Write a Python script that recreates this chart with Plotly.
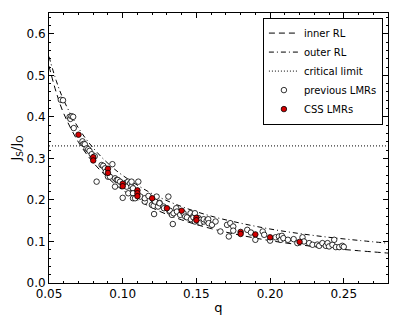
import plotly.graph_objects as go

# theoretical curves
q_curve = [0.05, 0.055, 0.06, 0.07, 0.08, 0.09, 0.10, 0.12, 0.14, 0.16, 0.18, 0.20, 0.22, 0.24, 0.26, 0.28]
inner_rl = [0.522, 0.458, 0.408, 0.339, 0.290, 0.253, 0.2235, 0.181, 0.152, 0.131, 0.115, 0.102, 0.092, 0.084, 0.0777, 0.072]
outer_rl = [0.545, 0.486, 0.440, 0.373, 0.325, 0.288, 0.259, 0.215, 0.184, 0.161, 0.144, 0.130, 0.119, 0.110, 0.1026, 0.0958]
critical = 0.33

# previous LMRs (open circles)
prev_q = [0.058, 0.0595, 0.064, 0.0645, 0.0653, 0.0664, 0.0668, 0.0727, 0.0735, 0.0743, 0.0755, 0.0766,
          0.0775, 0.079, 0.081, 0.0823, 0.0857, 0.0868, 0.088, 0.0886, 0.090, 0.0913, 0.093, 0.0948, 0.0948,
          0.0959, 0.0967, 0.0982, 0.100, 0.1022, 0.1027, 0.1037, 0.1038, 0.105, 0.106, 0.106, 0.107, 0.107,
          0.107, 0.107, 0.1084, 0.1106, 0.112, 0.115, 0.115, 0.1175, 0.1198, 0.121, 0.121, 0.1213, 0.122,
          0.123, 0.124, 0.125, 0.125, 0.1277, 0.128, 0.131, 0.1318, 0.132, 0.1334, 0.134, 0.1345, 0.1363,
          0.1368, 0.139, 0.1413, 0.1424, 0.1436, 0.146, 0.1463, 0.148, 0.148, 0.149, 0.149, 0.1515, 0.1527,
          0.1527, 0.155, 0.155, 0.157, 0.158, 0.1583, 0.1606, 0.163, 0.1663, 0.1708, 0.172, 0.173, 0.175,
          0.175, 0.1845, 0.187, 0.190, 0.195, 0.196, 0.200, 0.2037, 0.206, 0.2072, 0.208, 0.209, 0.2121,
          0.216, 0.2185, 0.222, 0.223, 0.2265, 0.2288, 0.232, 0.2333, 0.2355, 0.2378, 0.239, 0.240, 0.2423,
          0.2435, 0.2446, 0.2469, 0.249, 0.250]
prev_j = [0.441, 0.440, 0.400, 0.395, 0.4015, 0.400, 0.373, 0.341, 0.335, 0.334, 0.324, 0.322,
          0.318, 0.310, 0.305, 0.244, 0.284, 0.282, 0.276, 0.268, 0.256, 0.256, 0.286, 0.252, 0.232,
          0.248, 0.248, 0.244, 0.205, 0.241, 0.232, 0.244, 0.216, 0.240, 0.232, 0.244, 0.220, 0.228,
          0.216, 0.204, 0.204, 0.244, 0.208, 0.196, 0.204, 0.2095, 0.188, 0.186, 0.200, 0.166, 0.196,
          0.208, 0.184, 0.193, 0.192, 0.184, 0.180, 0.208, 0.172, 0.174, 0.164, 0.142, 0.168, 0.180,
          0.172, 0.164, 0.168, 0.160, 0.158, 0.168, 0.1535, 0.1615, 0.158, 0.148, 0.168, 0.156, 0.152,
          0.145, 0.148, 0.1535, 0.150, 0.1535, 0.144, 0.140, 0.148, 0.124, 0.140, 0.112, 0.144, 0.136,
          0.126, 0.128, 0.1215, 0.104, 0.124, 0.116, 0.102, 0.110, 0.112, 0.104, 0.1135, 0.108, 0.104,
          0.1056, 0.096, 0.110, 0.100, 0.096, 0.092, 0.0925, 0.0895, 0.096, 0.0895, 0.096, 0.088, 0.092,
          0.104, 0.0864, 0.0864, 0.0895, 0.087]

# CSS LMRs (red)
css_q = [0.07, 0.08, 0.08, 0.09, 0.09, 0.10, 0.10, 0.11, 0.11, 0.11, 0.12, 0.13, 0.14, 0.15, 0.15,
         0.18, 0.18, 0.19, 0.20, 0.22]
css_j = [0.357, 0.303, 0.295, 0.275, 0.265, 0.239, 0.233, 0.223, 0.216, 0.209, 0.204, 0.180, 0.174,
         0.157, 0.151, 0.123, 0.118, 0.117, 0.110, 0.099]

fig = go.Figure()
fig.add_trace(go.Scatter(x=q_curve, y=inner_rl, mode="lines", name="inner RL", line_shape="spline",
                         line=dict(color="black", width=1, dash="6px,4px")))
fig.add_trace(go.Scatter(x=q_curve, y=outer_rl, mode="lines", name="outer RL", line_shape="spline",
                         line=dict(color="black", width=1, dash="5px,3px,1px,3px")))
fig.add_trace(go.Scatter(x=[0.05, 0.28], y=[critical, critical], mode="lines", name="critical limit",
                         line=dict(color="black", width=1, dash="1px,2px")))
fig.add_trace(go.Scatter(x=prev_q, y=prev_j, mode="markers", name="previous LMRs",
                         marker=dict(symbol="circle", size=5.5, color="white",
                                     line=dict(color="black", width=0.8))))
fig.add_trace(go.Scatter(x=css_q, y=css_j, mode="markers", name="CSS LMRs",
                         marker=dict(symbol="circle", size=5.5, color="#d40000",
                                     line=dict(color="black", width=0.8))))

axis_common = dict(showline=True, linecolor="black", linewidth=1, mirror="allticks", ticks="inside",
                   ticklen=5, tickcolor="black", showgrid=False, zeroline=False, automargin=False,
                   tickfont=dict(family="DejaVu Sans", size=12, color="black"))

fig.update_xaxes(range=[0.05, 0.28], dtick=0.05, tick0=0.05, tickformat=".2f",
                 minor=dict(ticks="inside", dtick=0.01, ticklen=2, tickcolor="black"),
                 title=dict(text="q", font=dict(family="DejaVu Sans", size=13, color="black"), standoff=2),
                 **axis_common)
fig.update_yaxes(range=[0, 0.65], dtick=0.1, tickformat=".1f",
                 minor=dict(ticks="inside", dtick=0.02, ticklen=2, tickcolor="black"),
                 title=dict(text="J<sub>S</sub>/J<sub>O</sub>",
                            font=dict(family="DejaVu Sans", size=13, color="black"), standoff=6),
                 **axis_common)

# the page body adds 8px around the figure, so the figure is 392x317
fig.update_layout(
    width=392, height=317,
    margin=dict(l=41, r=12, t=4.5, b=41.7),
    plot_bgcolor="white", paper_bgcolor="white",
    legend=dict(x=0.985, y=0.983, xanchor="right", yanchor="top", bgcolor="white",
                bordercolor="black", borderwidth=1, font=dict(family="DejaVu Sans", size=10, color="black"),
                tracegroupgap=0, itemwidth=30),
)

fig.write_html("out.html")
